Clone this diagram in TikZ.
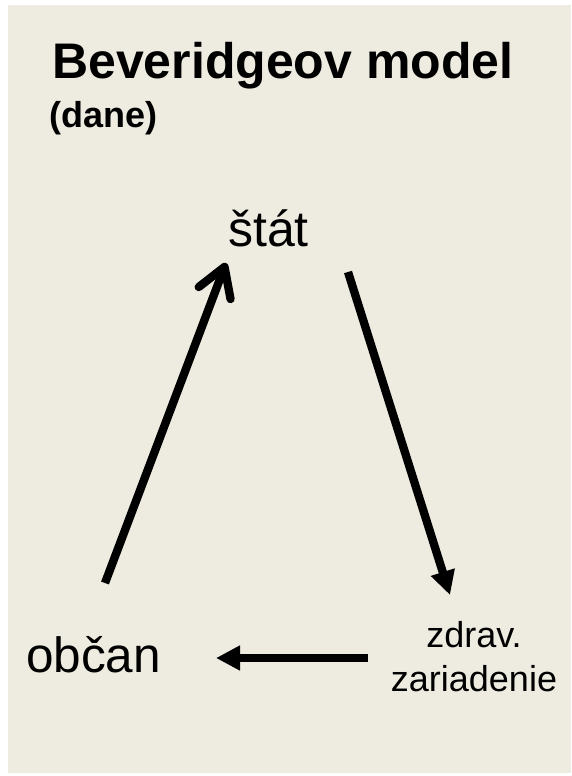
\documentclass[tikz,border=0pt]{standalone}
\usepackage{fontspec}
\setmainfont{Liberation Sans}
\usetikzlibrary{arrows.meta}
\definecolor{bg}{HTML}{EEECE1}
\begin{document}
\begin{tikzpicture}[x=1pt,y=-1pt,
  lbl/.style={inner sep=0pt,anchor=base west},
  arr/.style={line width=8.3pt,draw=black},
  tri/.style={-{Triangle[length=24pt,width=23.5pt]}}]
\useasboundingbox (0,0) rectangle (571,776);
\fill[white] (0,0) rectangle (571,776);
\fill[bg] (8,5) rectangle (571,773);
\node[lbl,font=\fontsize{50}{60}\selectfont\bfseries] (title) at (52,78) {Beveridgeov model};
\node[lbl,font=\fontsize{36}{43}\selectfont\bfseries] (dane) at (49,127) {(dane)};
\node[lbl,font=\fontsize{50}{60}\selectfont] (stat) at (228,246) {štát};
\node[lbl,font=\fontsize{49.5}{59}\selectfont] (obcan) at (26,672) {občan};
\node[align=center,font=\fontsize{36}{43.5}\selectfont,inner sep=0pt,anchor=base] (zdrav) at (474,691) {zdrav.\\zariadenie};
\coordinate (a1s) at (105,583);
\coordinate (a1e) at (226,263);
\coordinate (a2s) at (348,272);
\coordinate (a2e) at (450,595);
\coordinate (a3s) at (368,658);
\coordinate (a3e) at (216,658);
\draw[arr,-{Straight Barb[length=28pt,width=34pt,round]}] (a1s) -- (a1e);
\draw[arr,tri] (a2s) -- (a2e);
\draw[arr,tri] (a3s) -- (a3e);
\end{tikzpicture}
\end{document}
